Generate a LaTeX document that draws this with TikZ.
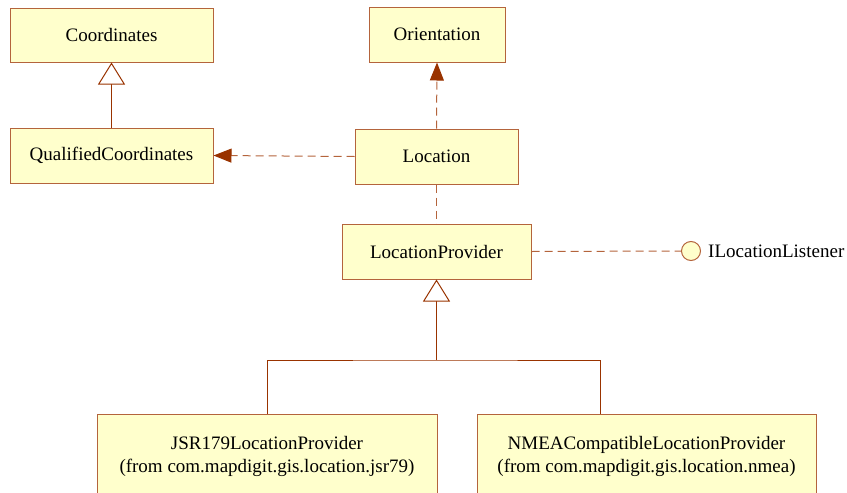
\documentclass[tikz,border=0pt]{standalone}
\usepackage{fontspec}
\setmainfont{Liberation Serif}
\usetikzlibrary{arrows.meta}
\definecolor{umlline}{HTML}{B4643C}
\definecolor{umlarrow}{HTML}{993300}
\definecolor{umlfill}{HTML}{FFFFCC}
\tikzstyle{cls}=[shape=rectangle,
                 draw=umlline,
                 fill=umlfill,
                 line width=1pt,
                 font=\fontsize{19}{23}\selectfont,
                 align=center]
\tikzstyle{iface}=[shape=circle,
                   draw=umlline,
                   fill=umlfill,
                   line width=1pt,
                   minimum size=19pt,
                   inner sep=0pt]
\tikzstyle{dep}=[draw=umlline,line width=1pt,dash pattern=on 8pt off 5pt]
\tikzstyle{gen}=[draw=umlarrow,line width=1pt]

\begin{document}
\begin{tikzpicture}[x=1pt,y=-1pt]
\useasboundingbox (0,0) rectangle (847,493);
\clip (0,0) rectangle (847,493);

\node[cls,minimum width=203pt,minimum height=54pt] (coord)  at (111.5,35)  {Coordinates};
\node[cls,minimum width=203pt,minimum height=55pt] (qcoord) at (111.5,155.5) {QualifiedCoordinates};
\node[cls,minimum width=136pt,minimum height=55pt] (orient) at (437,34.5)  {Orientation};
\node[cls,minimum width=163pt,minimum height=55pt] (loc)    at (436.5,156.5) {Location};
\node[cls,minimum width=189pt,minimum height=55pt] (prov)   at (436.5,251.5) {LocationProvider};
\node[iface] (listen) at (691,251) {};
\node[anchor=west,font=\fontsize{19}{23}\selectfont,inner sep=0pt] (listenlbl) at (708,251) {ILocationListener};

\node[cls,minimum width=340pt,minimum height=84pt] (jsr)  at (267,456)
  {JSR179LocationProvider\\(from com.mapdigit.gis.location.jsr79)};
\node[cls,minimum width=339pt,minimum height=84pt] (nmea) at (646.5,456)
  {NMEACompatibleLocationProvider\\(from com.mapdigit.gis.location.nmea)};

\coordinate (fork) at (436.5,360);
\coordinate (nmeain) at ([xshift=-46.5pt]nmea.north);

% dependencies
\draw[dep,-{Triangle[length=18pt,width=14pt,color=umlarrow]}] (loc.west) -- (qcoord.east);
\draw[dep,-{Triangle[length=18pt,width=14pt,color=umlarrow]}] (loc.north) -- (orient.south);
\draw[dep] (loc.south) -- (prov.north);
\draw[dep] (prov.east) -- (listen.west);

% generalizations
\draw[gen,-{Triangle[open,length=22pt,width=27pt,fill=white]}] (qcoord.north) -- (coord.south);
\draw[gen,-{Triangle[open,length=22pt,width=27pt,fill=white]}] (fork) -- (prov.south);
\draw[gen] (jsr.north) |- (fork) -| (nmeain);

\end{tikzpicture}
\end{document}
